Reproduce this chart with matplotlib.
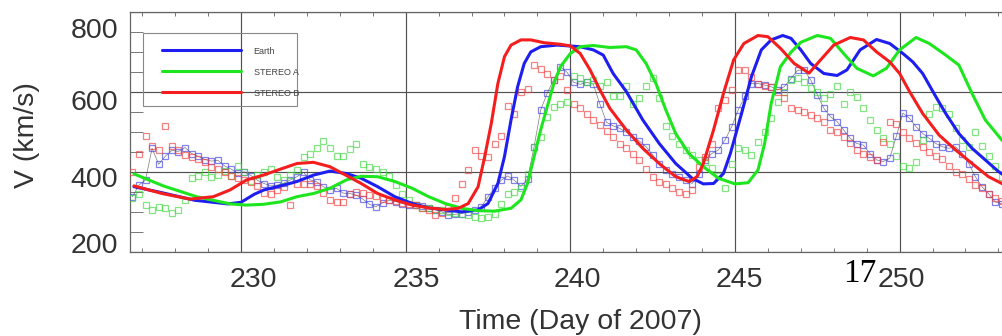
import matplotlib
matplotlib.use('Agg')
import matplotlib.pyplot as plt
import numpy as np
from matplotlib.patches import Rectangle
from matplotlib.ticker import MultipleLocator, NullFormatter
from matplotlib.transforms import offset_copy

# observed solar wind speed (km/s), one value every 0.2 day from day 226.7
obs_start = 226.7
obs_step = 0.2
earth_obs = [
    339, 368, 381, 460, 420, 440, 455, 452, 462, 447, 440, 432, 428, 430, 416, 408,
    398, 401, 392, 380, 372, 366, 368, 373, 381, 389, 400, 381, 376, 364, 356, 360,
    348, 347, 343, 333, 320, 314, 324, 330, 327, 322, 318, 318, 317, 311, 307, 301,
    294, 295, 297, 300, 305, 314, 339, 360, 380, 391, 380, 365, 383, 464, 556, 598,
    632, 664, 650, 625, 620, 625, 620, 570, 525, 516, 510, 500, 489, 478, 464, 444,
    420, 406, 397, 389, 381, 372, 397, 431, 447, 456, 481, 514, 556, 590, 622, 622,
    618, 614, 606, 614, 634, 655, 656, 631, 594, 560, 539, 527, 506, 485, 472, 468,
    447, 431, 427, 435, 490, 548, 535, 514, 497, 485, 472, 464, 460, 464, 447, 422,
    389, 364, 347, 326, 322,
]
stereo_a_obs = [
    335, 347, 318, 306, 314, 312, 298, 306, 330, 385, 392, 400, 388, 393, 404, 392,
    416, 400, 378, 393, 402, 408, 389, 381, 393, 406, 439, 447, 460, 478, 460, 440,
    440, 458, 470, 422, 414, 408, 400, 390, 368, 346, 331, 318, 312, 310, 307, 305,
    302, 299, 296, 293, 288, 286, 289, 296, 320, 347, 352, 362, 397, 464, 489, 539,
    563, 570, 575, 640, 635, 625, 631, 615, 627, 590, 590, 615, 570, 585, 615, 635,
    585, 515, 490, 472, 455, 443, 432, 425, 410, 390, 362, 420, 460, 456, 443, 475,
    500, 537, 575, 600, 631, 637, 627, 612, 602, 585, 597, 615, 570, 602, 588, 560,
    530, 505, 485, 470, 440, 415, 410, 425, 480, 545, 564, 560, 547, 510, 481, 464,
    500, 465, 440, 415, 389,
]
stereo_b_obs = [
    400, 445, 490, 465, 455, 515, 465, 455, 443, 438, 434, 425, 414, 408, 400, 392,
    385, 380, 376, 366, 348, 345, 356, 363, 318, 370, 372, 370, 365, 348, 331, 326,
    326, 345, 352, 348, 343, 340, 334, 331, 328, 324, 322, 319, 312, 305, 293, 298,
    310, 335, 370, 405, 455, 440, 438, 470, 490, 565, 545, 600, 608, 668, 658, 645,
    632, 640, 605, 572, 560, 546, 532, 518, 503, 488, 472, 460, 447, 430, 408, 388,
    376, 370, 362, 350, 347, 355, 414, 439, 470, 560, 581, 606, 656, 655, 639, 622,
    617, 613, 600, 585, 562, 555, 551, 543, 535, 527, 506, 502, 489, 474, 456, 445,
    439, 431, 475, 527, 520, 501, 487, 474, 464, 450, 441, 433, 416, 400, 397, 384,
    368, 360, 347, 335, 328,
]

# model speed curves
earth_model_day = [
    226.75, 227.6, 228.6, 229.6, 230.0, 230.4, 230.7, 231.2, 231.7, 232.2, 232.7,
    233.2, 233.65, 234.15, 234.67, 235.2, 235.7, 236.2, 236.7, 237.2, 237.5, 237.8,
    238.0, 238.2, 238.4, 238.6, 238.8, 239.1, 239.6, 240.3, 240.7, 241.0, 241.3,
    241.7, 242.2, 242.7, 243.2, 243.7, 244.04, 244.35, 244.65, 244.86, 245.2, 245.5,
    245.8, 246.1, 246.45, 246.7, 247.0, 247.3, 247.7, 248.1, 248.4, 248.8, 249.3,
    249.7, 250.1, 250.4, 250.7, 251.1, 251.4, 251.8, 252.2, 252.6, 253.0, 253.4,
]
earth_model_v = [
    364, 349, 330, 321, 325, 345, 356, 366, 377, 393, 403,
    397, 385, 364, 339, 322, 311, 306, 301, 306, 322, 372,
    439, 531, 614, 672, 701, 714, 718, 714, 706, 693, 647,
    602, 531, 472, 422, 385, 371, 372, 397, 447, 547, 639,
    706, 731, 742, 735, 706, 672, 647, 642, 656, 706, 732,
    722, 697, 676, 647, 589, 547, 497, 460, 431, 402, 380,
]
stereo_a_model_day = [
    226.75, 227.64, 228.65, 229.67, 230.17, 230.68, 231.2, 231.7, 232.2, 232.7,
    233.2, 233.65, 234.15, 234.67, 235.2, 235.7, 236.2, 236.7, 237.2, 237.7, 238.2,
    238.5, 238.7, 238.9, 239.1, 239.3, 239.5, 239.7, 240.0, 240.3, 240.7, 241.2,
    241.7, 242.0, 242.3, 242.6, 242.9, 243.2, 243.6, 244.04, 244.5, 245.0, 245.4,
    245.7, 245.9, 246.1, 246.38, 246.7, 247.0, 247.5, 247.9, 248.3, 248.7, 249.2,
    249.6, 250.0, 250.5, 250.9, 251.4, 251.8, 252.2, 252.6, 253.1, 253.4,
]
stereo_a_model_v = [
    396, 366, 339, 321, 318, 320, 326, 339, 347, 360,
    381, 390, 389, 377, 360, 339, 322, 310, 304, 303, 310,
    331, 372, 439, 506, 564, 622, 664, 697, 714, 717, 712,
    714, 706, 672, 622, 556, 497, 447, 414, 385, 371, 374,
    406, 472, 572, 664, 700, 725, 742, 735, 697, 660, 641,
    660, 706, 737, 722, 693, 668, 597, 531, 481, 460,
]
stereo_b_model_day = [
    226.75, 227.6, 228.45, 229.16, 229.67, 230.17, 230.68, 231.2, 231.7, 232.2,
    232.7, 233.2, 233.65, 234.15, 234.67, 235.2, 235.7, 236.2, 236.6, 236.9, 237.2,
    237.4, 237.6, 237.8, 238.0, 238.2, 238.5, 238.8, 239.2, 239.7, 240.0, 240.3,
    240.6, 240.9, 241.2, 241.7, 242.2, 242.7, 243.2, 243.6, 243.85, 244.04, 244.35,
    244.65, 244.96, 245.27, 245.7, 246.0, 246.38, 246.8, 247.25, 247.6, 248.0,
    248.5, 248.9, 249.3, 249.7, 250.0, 250.3, 250.7, 251.2, 251.7, 252.2, 252.7,
    253.2, 253.4,
]
stereo_b_model_v = [
    366, 347, 333, 339, 356, 381, 393, 408, 422, 425,
    414, 392, 372, 347, 331, 318, 311, 307, 310, 322, 364,
    439, 522, 622, 689, 718, 731, 731, 724, 720, 716, 697,
    656, 606, 560, 506, 460, 422, 389, 377, 389, 422, 506,
    597, 681, 722, 742, 739, 710, 672, 648, 681, 718,
    737, 731, 701, 676, 647, 602, 547, 493, 456, 422, 389,
    368, 362,
]

series_names = ['Earth', 'STEREO A', 'STEREO B']
line_colors = ['#1e1ef0', '#1ee61e', '#f51e1e']
obs_colors = ['#4040e0', '#40d840', '#f04040']

xtick_vals = [230, 235, 240, 245, 250]
ytick_vals = [200, 400, 600, 800]

plt.rcParams['font.family'] = ['Liberation Sans', 'DejaVu Sans']

W, H = 1003, 336
fig = plt.figure(figsize=(W / 100, H / 100), dpi=100)
ax = fig.add_axes([130 / W, 1 - 252.3 / H, 880 / W, 240 / H])
ax.set_xlim(226.629, 253.352)
ax.set_ylim(200, 800)


def px_to_axes(x, y):
    # figure pixel (from top-left) -> axes fraction
    return (x - 130) / 880, (252.3 - y) / 240


obs_day = obs_start + obs_step * np.arange(len(earth_obs))
all_obs = [earth_obs, stereo_a_obs, stereo_b_obs]

# Earth observations are joined by a thin trace
ax.plot(obs_day, earth_obs, '-', color='#444444', lw=0.5, alpha=0.7, zorder=2)
for vals, col in zip(all_obs, obs_colors):
    ax.plot(obs_day, vals, 's', ms=4.8, mfc='none', mec=col, mew=0.9,
            alpha=0.65, zorder=3)

models = [(earth_model_day, earth_model_v),
          (stereo_a_model_day, stereo_a_model_v),
          (stereo_b_model_day, stereo_b_model_v)]
handles = []
for (d, v), col, name in zip(models, line_colors, series_names):
    h, = ax.plot(d, v, '-', color=col, lw=2.2, zorder=4, label=name,
                 solid_capstyle='round')
    handles.append(h)

# grid and frame
ax.set_xticks(xtick_vals)
ax.set_yticks(ytick_vals)
ax.xaxis.set_minor_locator(MultipleLocator(1))
ax.yaxis.set_minor_locator(MultipleLocator(50))
ax.xaxis.set_major_formatter(NullFormatter())
ax.yaxis.set_major_formatter(NullFormatter())
ax.grid(True, which='major', color='#505050', lw=0.85, zorder=1)
for s in ['left', 'bottom', 'top']:
    ax.spines[s].set_color('#666666')
    ax.spines[s].set_linewidth(0.9)
ax.spines['right'].set_visible(False)
ax.tick_params(axis='x', which='both', direction='in', top=True, bottom=True,
               color='#777777', width=0.7)
ax.tick_params(axis='x', which='minor', length=3)
ax.tick_params(axis='x', which='major', length=0)
ax.tick_params(axis='y', which='both', direction='in', left=True, right=False,
               color='#777777', width=0.7)
ax.tick_params(axis='y', which='minor', length=9.5)
ax.tick_params(axis='y', which='major', length=0)

# tick labels sit slightly off their ticks
label_kw = dict(fontsize=20.5, color='#333333')
y_drop = [0.7, 14.7, 17.7, 25.7]
for v, dy in zip(ytick_vals, y_drop):
    tr = offset_copy(ax.get_yaxis_transform(), fig=fig, x=-12, y=-dy, units='dots')
    ax.text(0, v, str(v), transform=tr, ha='right', va='baseline', **label_kw)
x_shift = [12, 11, 7, 4, 2]
for d, dx in zip(xtick_vals, x_shift):
    tr = offset_copy(ax.get_xaxis_transform(), fig=fig, x=dx, y=-34.7, units='dots')
    ax.text(d, 0, str(d), transform=tr, ha='center', va='baseline', **label_kw)

fig.text(580 / W, 1 - 329 / H, 'Time (Day of 2007)', ha='center', va='baseline',
         **label_kw)
fig.text(27 / W, 1 - 135 / H, 'V (km/s)', rotation=90, ha='center', va='center',
         **label_kw)
fig.text(843 / W, 1 - 282 / H, '17', ha='left', va='baseline', fontsize=24,
         color='black', family='Liberation Serif')

# legend: entries without frame, plus a separate open box around them
leg = ax.legend(handles=handles, loc='upper left',
                bbox_to_anchor=px_to_axes(162, 46.5),
                fontsize=6.5, handlelength=8.7, handletextpad=1.45,
                labelspacing=1.33, borderpad=0, borderaxespad=0,
                frameon=False)
for t in leg.get_texts():
    t.set_color('#444444')
x0, y1 = px_to_axes(143, 33)
x1, y0 = px_to_axes(297, 106)
ax.add_patch(Rectangle((x0, y0), x1 - x0, y1 - y0, transform=ax.transAxes,
                       fill=False, edgecolor='#888888', lw=0.8, zorder=5))

fig.savefig('out.png', dpi=100)
